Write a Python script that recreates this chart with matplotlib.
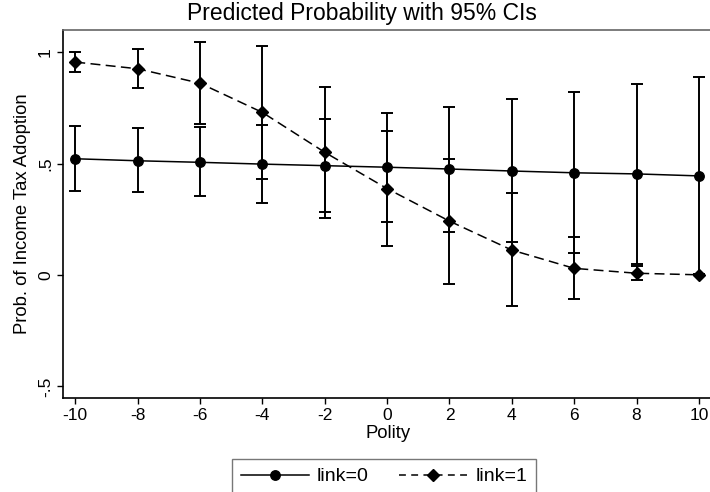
import matplotlib
matplotlib.use("Agg")
import matplotlib.pyplot as plt
import numpy as np
from matplotlib.lines import Line2D

plt.rcParams['font.family'] = ['Liberation Sans', 'DejaVu Sans']

polity = [-10, -8, -6, -4, -2, 0, 2, 4, 6, 8, 10]

link0 = [0.522, 0.513, 0.506, 0.498, 0.491, 0.484, 0.476, 0.467, 0.459, 0.454, 0.445]
link0_lo = [0.379, 0.373, 0.353, 0.322, 0.283, 0.239, 0.194, 0.147, 0.097, 0.049, 0.001]
link0_hi = [0.669, 0.659, 0.663, 0.674, 0.700, 0.726, 0.756, 0.790, 0.823, 0.856, 0.889]

link1 = [0.956, 0.926, 0.861, 0.730, 0.551, 0.388, 0.242, 0.112, 0.030, 0.008, 0.001]
link1_lo = [0.910, 0.841, 0.678, 0.430, 0.256, 0.130, -0.040, -0.139, -0.109, -0.022, -0.001]
link1_hi = [1.000, 1.013, 1.046, 1.030, 0.844, 0.647, 0.521, 0.367, 0.169, 0.040, 0.003]

xticks = [-10, -8, -6, -4, -2, 0, 2, 4, 6, 8, 10]
xticklabels = ['-10', '-8', '-6', '-4', '-2', '0', '2', '4', '6', '8', '10']
yticks = [-0.5, 0, 0.5, 1]
yticklabels = ['-.5', '0', '.5', '1']

W, H = 710, 492
fig = plt.figure(figsize=(W / 100, H / 100), dpi=100)
ax = fig.add_axes([63.3 / W, 94 / H, (712 - 63.3) / W, (398 - 30) / H])

x = np.array(polity)
for y, lo, hi in [(link0, link0_lo, link0_hi), (link1, link1_lo, link1_hi)]:
    y = np.array(y); lo = np.array(lo); hi = np.array(hi)
    ax.errorbar(x, y, yerr=[y - lo, hi - y], fmt='none', ecolor='black',
                elinewidth=1.4, capsize=4.3, capthick=1.4, zorder=2)

ax.plot(x, link0, color='black', lw=1.1, marker='o', markersize=6.8, zorder=3)
ax.plot(x, link1, color='black', lw=1.1, linestyle=(0, (6.5, 3.5)),
        marker='D', markersize=6.5, zorder=3)

ax.set_xlim(-10.385, 10.42)
ax.set_ylim(-0.552, 1.100)
ax.set_xticks(xticks)
ax.set_xticklabels(xticklabels, fontsize=12.5)
ax.set_yticks(yticks)
ax.set_yticklabels(yticklabels, fontsize=12.5, rotation=90, va='center')
ax.tick_params(axis='both', direction='out', length=4.5, width=1.0, color='black')
ax.tick_params(axis='x', pad=3)
ax.tick_params(axis='y', pad=3)

ax.spines['right'].set_visible(False)
ax.spines['top'].set_color('#666666')
ax.spines['top'].set_linewidth(1.2)
ax.spines['left'].set_linewidth(1.2)
ax.spines['bottom'].set_linewidth(1.2)

ax.set_xlabel('Polity', fontsize=13.3, labelpad=1)
ax.set_ylabel('Prob. of Income Tax Adoption', fontsize=13.3, labelpad=5)
fig.text(361.5 / W, 1 - 20 / H, 'Predicted Probability with 95% CIs',
         ha='center', va='baseline', fontsize=16.5)

handles = [
    Line2D([], [], color='black', lw=1.1, marker='o', markersize=6.8),
    Line2D([], [], color='black', lw=1.1, linestyle=(0, (4.5, 3.5)),
           marker='D', markersize=6.5),
]
leg = fig.legend(handles, ['link=0', 'link=1'], ncol=2, fontsize=14,
                 loc='upper left', bbox_to_anchor=(232 / W, 1 - 459 / H),
                 frameon=True, fancybox=False, handlelength=3.5,
                 columnspacing=1.55, handletextpad=0.42, borderpad=0.45,
                 borderaxespad=0)
leg.get_frame().set_edgecolor('#555555')
leg.get_frame().set_linewidth(1.0)

fig.savefig('out.png', dpi=100)
